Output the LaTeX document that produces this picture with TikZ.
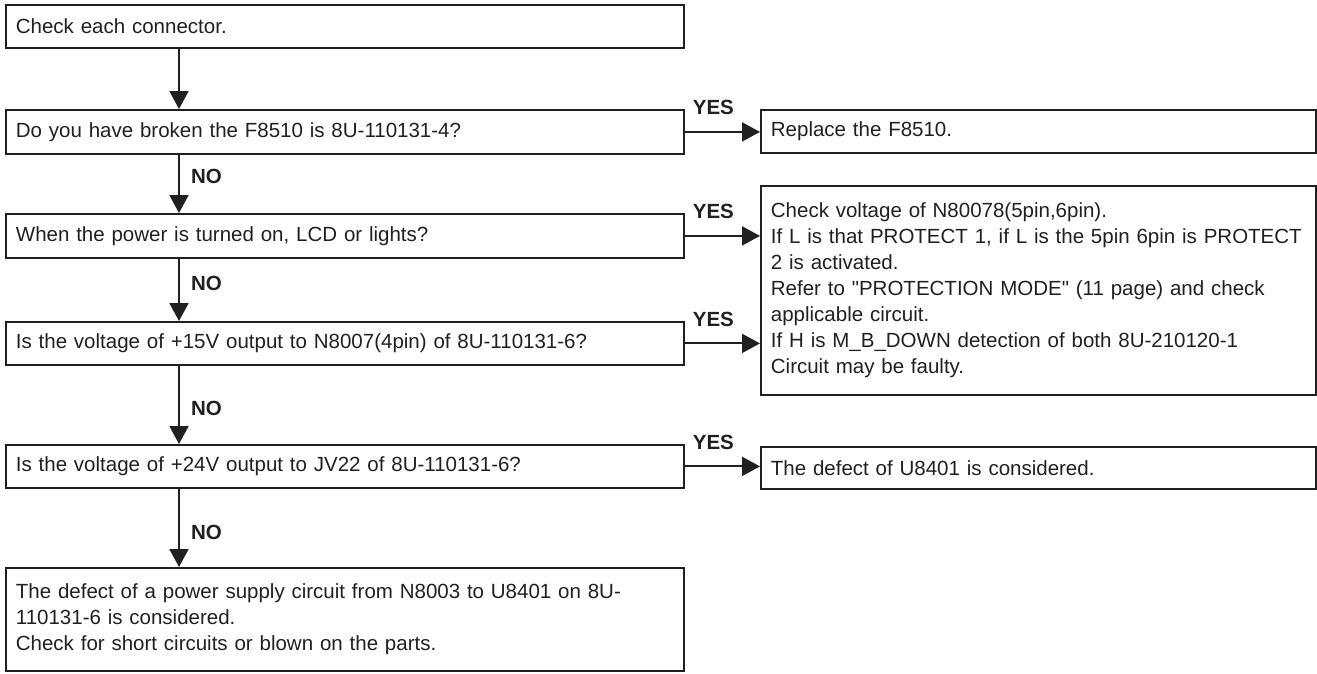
\documentclass[tikz,border=0pt]{standalone}
\usepackage{fontspec}
\setmainfont{Liberation Sans}
\usetikzlibrary{arrows.meta}
\definecolor{ink}{HTML}{231F20}
\begin{document}
\begin{tikzpicture}[x=1pt,y=-1pt,
  box/.style={draw=ink, line width=1.8pt, text=ink,
    font=\fontsize{20.5}{26}\selectfont, align=left,
    inner xsep=10pt, inner ysep=0pt, anchor=north west,
    text width=#1},
  lbox/.style={box=658pt, minimum width=678pt},
  rbox/.style={box=535pt, minimum width=555pt},
  arr/.style={draw=ink, line width=2pt, -{Triangle[length=18pt,width=19pt]}},
  lab/.style={text=ink, font=\fontsize{20.5}{24}\selectfont\bfseries, inner sep=0pt}
]
\useasboundingbox (0,0) rectangle (1317,673);

\node[lbox, minimum height=43pt] (b1) at (5,4) {Check each connector.};
\node[lbox, minimum height=44pt] (b2) at (5,109) {Do you have broken the F8510 is 8U-110131-4?};
\node[lbox, minimum height=44pt] (b3) at (5,213) {When the power is turned on, LCD or lights?};
\node[lbox, minimum height=43pt] (b4) at (5,321) {Is the voltage of +15V output to N8007(4pin) of 8U-110131-6?};
\node[lbox, minimum height=43pt] (b5) at (5,444) {Is the voltage of +24V output to JV22 of 8U-110131-6?};
\node[lbox, minimum height=103pt] (b6) at (5,567) {The defect of a power supply circuit from N8003 to U8401 on 8U-\\110131-6 is considered.\\Check for short circuits or blown on the parts.};

\node[rbox, minimum height=43pt] (ra) at (760,109) {Replace the F8510.};
\node[rbox, minimum height=209pt] (rb) at (760,185) {Check voltage of N80078(5pin,6pin).\\\mbox{If L is that PROTECT 1, if L is the 5pin 6pin is PROTECT}\\2 is activated.\\Refer to \textquotedbl PROTECTION MODE\textquotedbl\ (11 page) and check\\applicable circuit.\\If H is M\_B\_DOWN detection of both 8U-210120-1\\Circuit may be faulty.};
\node[rbox, minimum height=42pt] (rc) at (760,446) {The defect of U8401 is considered.};

\coordinate (ax) at (179,0);

\draw[arr] (b1.south -| ax) -- (b2.north -| ax);
\draw[arr] (b2.south -| ax) -- node[lab, pos=0.38, right=11pt] (n1) {NO} (b3.north -| ax);
\draw[arr] (b3.south -| ax) -- node[lab, pos=0.39, right=11pt] (n2) {NO} (b4.north -| ax);
\draw[arr] (b4.south -| ax) -- node[lab, pos=0.54, right=11pt] (n3) {NO} (b5.north -| ax);
\draw[arr] (b5.south -| ax) -- node[lab, pos=0.56, right=11pt] (n4) {NO} (b6.north -| ax);

\draw[arr] (b2.east) -- node[lab, pos=0.38, above=16pt] (y1) {YES} (b2.east -| ra.west);
\draw[arr] (b3.east) -- node[lab, pos=0.38, above=16pt] (y2) {YES} (b3.east -| rb.west);
\draw[arr] (b4.east) -- node[lab, pos=0.38, above=16pt] (y3) {YES} (b4.east -| rb.west);
\draw[arr] (b5.east) -- node[lab, pos=0.38, above=16pt] (y4) {YES} (b5.east -| rc.west);
\end{tikzpicture}
\end{document}
